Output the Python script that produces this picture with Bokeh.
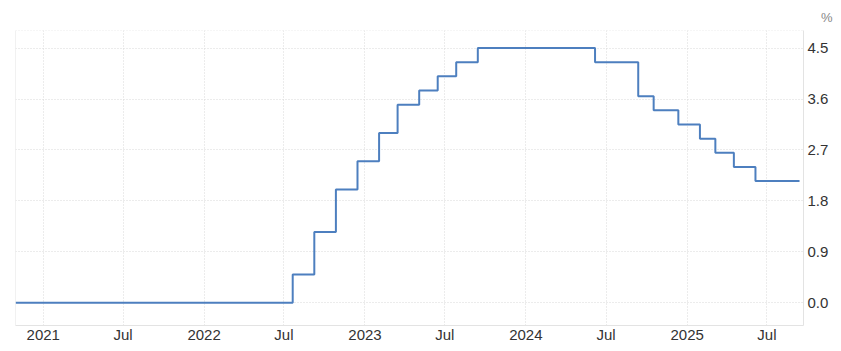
import pandas as pd
from bokeh.plotting import figure
from bokeh.models import FixedTicker, Range1d, ColumnDataSource, Span
from bokeh.embed import file_html
from bokeh.resources import INLINE

# Data: step dates and rate values (%)
rate_dates = ["2020-10-30", "2022-07-21", "2022-09-08", "2022-10-27", "2022-12-15",
              "2023-02-02", "2023-03-16", "2023-05-04", "2023-06-15", "2023-07-27",
              "2023-09-14", "2024-06-06", "2024-09-12", "2024-10-17", "2024-12-12",
              "2025-01-30", "2025-03-06", "2025-04-17", "2025-06-05", "2025-09-13"]
rate_values = [0.00, 0.50, 1.25, 2.00, 2.50,
               3.00, 3.50, 3.75, 4.00, 4.25,
               4.50, 4.25, 3.65, 3.40, 3.15,
               2.90, 2.65, 2.40, 2.15, 2.15]

x_tick_dates = ["2021-01-01", "2021-07-01", "2022-01-01", "2022-07-01", "2023-01-01",
                "2023-07-01", "2024-01-01", "2024-07-01", "2025-01-01", "2025-07-01"]
x_tick_labels = ["2021", "Jul", "2022", "Jul", "2023", "Jul", "2024", "Jul", "2025", "Jul"]
y_ticks = [0.0, 0.9, 1.8, 2.7, 3.6, 4.5]
y_tick_labels = ["0.0", "0.9", "1.8", "2.7", "3.6", "4.5"]

def ms(d):
    return pd.Timestamp(d).value / 1e6

xs = [ms(d) for d in rate_dates]
src = ColumnDataSource(dict(x=xs, y=rate_values))

x_start = ms("2020-10-30")
x_end = ms("2025-09-22")
y_start, y_end = -0.40, 4.81

p = figure(width=841, height=351, output_backend="svg", toolbar_location=None,
           x_range=Range1d(x_start, x_end), y_range=Range1d(y_start, y_end),
           y_axis_location="right",
           min_border_left=15, min_border_right=38, min_border_top=30, min_border_bottom=26)

p.step("x", "y", source=src, mode="after", line_color="#4d7fbf", line_width=2)

xt = [ms(d) for d in x_tick_dates]
p.xaxis.ticker = FixedTicker(ticks=xt)
p.xaxis.major_label_overrides = {t: l for t, l in zip(xt, x_tick_labels)}
p.yaxis.ticker = FixedTicker(ticks=y_ticks)
p.yaxis.major_label_overrides = {t: l for t, l in zip(y_ticks, y_tick_labels)}

for ax in (p.xaxis, p.yaxis):
    ax.axis_line_color = "#e3e3e3"
    ax.major_tick_line_color = None
    ax.minor_tick_line_color = None
    ax.major_tick_out = 0
    ax.major_tick_in = 0
    ax.minor_tick_out = 0
    ax.minor_tick_in = 0
    ax.major_label_text_font = "Liberation Sans"
    ax.major_label_text_font_size = "15px"
    ax.major_label_text_color = "#333333"
p.xaxis.major_label_standoff = 0
p.yaxis.major_label_standoff = 4

for g in (p.xgrid, p.ygrid):
    g.grid_line_color = "#d9d9d9"
    g.grid_line_dash = "1 2"
    g.grid_line_width = 1

p.outline_line_color = None
p.add_layout(Span(location=y_end, dimension="width", line_color="#d9d9d9",
                  line_dash="1 2", line_width=1))
p.add_layout(Span(location=x_start, dimension="height", line_color="#e3e3e3",
                  line_width=1))
p.background_fill_color = "white"
p.border_fill_color = "white"

p.title.text = "%"
p.title.align = "right"
p.title.offset = -29
p.title.standoff = 12
p.title.text_font = "Liberation Sans"
p.title.text_font_size = "13px"
p.title.text_font_style = "normal"
p.title.text_color = "#888888"

open("out.html", "w").write(file_html(p, INLINE))
